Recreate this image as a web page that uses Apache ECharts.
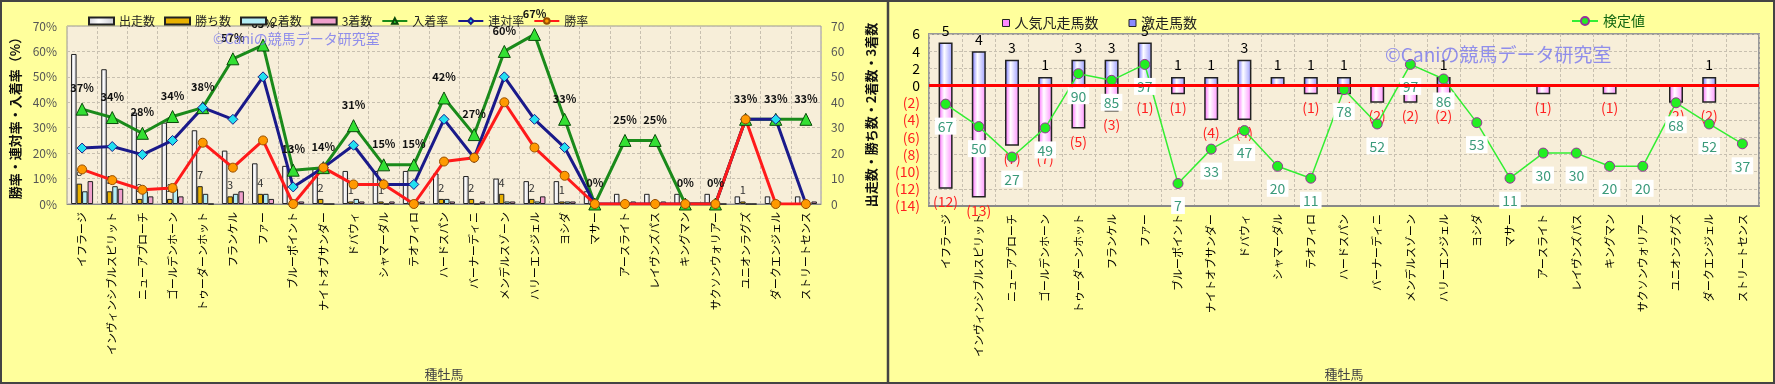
<!DOCTYPE html>
<html><head><meta charset="utf-8">
<script src="https://cdn.jsdelivr.net/npm/echarts@6/dist/echarts.min.js"></script>
<style>html,body{margin:0;padding:0;background:#ffff9c}#c{width:1775px;height:384px}</style>
</head><body><div id="c"></div>
<script>
const categories = ['イフラージ','インヴィンシブルスピリット','ニューアプローチ','ゴールデンホーン','トゥーダーンホット','フランケル','ファー','ブルーポイント','ナイトオブサンダー','ドバウィ','シャマーダル','テオフィロ','ハードスパン','バーナーディニ','メンデルスゾーン','ハリーエンジェル','ヨシダ','マサー','アースライト','レイヴンズパス','キングマン','サクソンウォリアー','ユニオンラグズ','ダークエンジェル','ストリートセンス'];
const runs   = [59,53,36,32,29,21,16,15,14,13,13,13,12,11,10,9,9,5,4,4,4,4,3,3,3];
const wins   = [8,5,2,2,7,3,4,0,2,1,1,0,2,2,4,2,1,0,0,0,0,0,1,0,0];
const second = [5,7,5,6,4,4,4,1,0,2,0,1,2,0,1,1,1,0,0,0,0,0,0,1,0];
const third  = [9,6,3,3,0,5,2,1,0,1,1,1,1,1,1,3,1,0,1,1,0,0,0,0,1];
const placeRate  = [37.3,34.0,27.8,34.4,37.9,57.1,62.5,13.3,14.3,30.8,15.4,15.4,41.7,27.3,60.0,66.7,33.3,0,25.0,25.0,0,0,33.3,33.3,33.3];
const rentaiRate = [22.0,22.6,19.4,25.0,37.9,33.3,50.0,6.7,14.3,23.1,7.7,7.7,33.3,18.2,50.0,33.3,22.2,0,0,0,0,0,33.3,33.3,0];
const winRate    = [13.6,9.4,5.6,6.3,24.1,14.3,25.0,0,14.3,7.7,7.7,0,16.7,18.2,40.0,22.2,11.1,0,0,0,0,0,33.3,0,0];
const ninkiBonsou = [-12,-13,-7,-7,-5,-3,-1,-1,-4,-4,0,-1,-1,-2,-2,-2,0,0,-1,0,-1,0,-2,-2,0];
const gekisou     = [5,4,3,1,3,3,5,1,1,3,1,1,1,0,0,1,0,0,0,0,0,0,0,1,0];
const kentei      = [67,50,27,49,90,85,97,7,33,47,20,11,78,52,97,86,53,11,30,30,20,20,68,52,37];
const leftTicks = {min:0, max:70, interval:10};
const rightTicks = {min:-14, max:6, interval:2};

const FONT = '"Noto Sans CJK JP", "Noto Sans", sans-serif';
const chart = echarts.init(document.getElementById('c'), null, {renderer:'canvas'});
const hGrad = (a,b,c) => new echarts.graphic.LinearGradient(0,0,1,0,[{offset:0,color:a},{offset:0.4,color:b},{offset:1,color:c}]);
const gridLine = {show:true, lineStyle:{color:'#c8c0b0', type:[3,2], width:1}};
const barBase = {type:'bar', xAxisIndex:0, yAxisIndex:1, barWidth:5.5, barGap:'0%'};
const catLabel = {rotate:90, interval:0, fontSize:11, color:'#000', margin:8, fontFamily:FONT};

chart.setOption({
  animation:false,
  backgroundColor:'#ffff9c',
  textStyle:{fontFamily:FONT},
  legend:[
    {left:83, top:10, itemWidth:25, itemHeight:7, itemGap:9, z:10, textStyle:{fontSize:12, color:'#222', fontFamily:FONT},
     data:[{name:'出走数',icon:'rect'},{name:'勝ち数',icon:'rect'},{name:'2着数',icon:'rect'},{name:'3着数',icon:'rect'},'入着率','連対率','勝率']},
    {left:997, top:11, itemWidth:7, itemHeight:7, itemGap:30, textStyle:{fontSize:14, color:'#222', fontFamily:FONT},
     data:[{name:'人気凡走馬数',icon:'rect',itemStyle:{color:'#ff88ff',borderColor:'#222',borderWidth:1}},
           {name:'激走馬数',icon:'rect',itemStyle:{color:'#8a8aff',borderColor:'#222',borderWidth:1}}]},
    {left:1566, top:9, itemWidth:26, itemHeight:10, textStyle:{fontSize:14, color:'#116611', fontFamily:FONT}, data:['検定値']}
  ],
  grid:[
    {left:67, top:26, width:754, height:178, show:true, backgroundColor:'#f7eed9', borderColor:'#999', borderWidth:1},
    {left:929, top:34, width:830, height:172, show:true, backgroundColor:'#f7eed9', borderColor:'#999', borderWidth:2}
  ],
  xAxis:[
    {type:'category', gridIndex:0, data:categories, axisTick:{show:false}, axisLine:{onZero:false, lineStyle:{color:'#888'}},
     axisLabel:catLabel, splitLine:gridLine, name:'種牡馬', nameLocation:'middle', nameGap:164, nameTextStyle:{fontSize:13, color:'#444'}},
    {type:'category', gridIndex:1, data:categories, axisTick:{show:false}, axisLine:{onZero:false, lineStyle:{color:'#888', width:2}},
     axisLabel:catLabel, splitLine:gridLine, name:'種牡馬', nameLocation:'middle', nameGap:162, nameTextStyle:{fontSize:13, color:'#444'}}
  ],
  yAxis:[
    {type:'value', gridIndex:0, position:'left', min:leftTicks.min, max:leftTicks.max, interval:leftTicks.interval,
     axisLabel:{formatter:'{value}%', fontSize:12, color:'#555', margin:10}, axisLine:{show:false}, axisTick:{show:false},
     splitLine:gridLine, name:'勝率・連対率・入着率（%）', nameLocation:'middle', nameRotate:90, nameGap:45,
     nameTextStyle:{fontSize:13, color:'#111', fontWeight:'bold'}},
    {type:'value', gridIndex:0, position:'right', min:leftTicks.min, max:leftTicks.max, interval:leftTicks.interval,
     axisLabel:{fontSize:12, color:'#555', margin:10}, axisLine:{show:false}, axisTick:{show:false}, splitLine:{show:false},
     name:'出走数・勝ち数・2着数・3着数', nameLocation:'middle', nameRotate:90, nameGap:44,
     nameTextStyle:{fontSize:13, color:'#111', fontWeight:'bold'}},
    {type:'value', gridIndex:1, position:'left', min:rightTicks.min, max:rightTicks.max, interval:rightTicks.interval,
     axisLine:{show:false}, axisTick:{show:false}, splitLine:gridLine,
     axisLabel:{margin:9, formatter:v => v < 0 ? '{r|(' + (-v) + ')}' : '{k|' + v + '}',
       rich:{r:{color:'#ff2020', fontSize:14, fontFamily:FONT}, k:{color:'#000', fontSize:14, fontFamily:FONT}}}},
    {type:'value', gridIndex:1, min:-10, max:120, show:false, splitLine:{show:false}}
  ],
  series:[
    Object.assign({}, barBase, {name:'出走数', data:runs, itemStyle:{color:hGrad('#d0d0d8','#ffffff','#c8c8d0'), borderColor:'#222', borderWidth:1}}),
    Object.assign({}, barBase, {name:'勝ち数', data:wins, itemStyle:{color:'#e8b000', borderColor:'#222', borderWidth:1},
      label:{show:true, position:'top', distance:6, fontSize:11, color:'#333', formatter:p => p.value ? p.value : ''}}),
    Object.assign({}, barBase, {name:'2着数', data:second, itemStyle:{color:'#b4eef6', borderColor:'#222', borderWidth:1}}),
    Object.assign({}, barBase, {name:'3着数', data:third, itemStyle:{color:'#f0a0cc', borderColor:'#222', borderWidth:1}}),
    {name:'入着率', type:'line', xAxisIndex:0, yAxisIndex:0, data:placeRate, symbol:'triangle', symbolSize:12,
     lineStyle:{color:'#1a8a1a', width:3}, itemStyle:{color:'#33e033', borderColor:'#0a4a0a', borderWidth:1},
     label:{show:true, position:'top', distance:9, fontSize:11, fontWeight:'bold', color:'#111', formatter:p => Math.round(p.value) + '%'}},
    {name:'連対率', type:'line', xAxisIndex:0, yAxisIndex:0, data:rentaiRate, symbol:'diamond', symbolSize:10,
     lineStyle:{color:'#1a1a8a', width:3}, itemStyle:{color:'#22e0f0', borderColor:'#1a1a8a', borderWidth:1}},
    {name:'勝率', type:'line', xAxisIndex:0, yAxisIndex:0, data:winRate, symbol:'circle', symbolSize:9,
     lineStyle:{color:'#ff1a1a', width:3}, itemStyle:{color:'#ff9900', borderColor:'#995000', borderWidth:1}},
    {name:'人気凡走馬数', type:'bar', xAxisIndex:1, yAxisIndex:2, data:ninkiBonsou, barWidth:14, barGap:'-100%',
     itemStyle:{color:hGrad('#ff60ff','#ffffff','#ff90ff'), borderColor:'#222', borderWidth:1.5},
     label:{show:true, position:'bottom', distance:6, fontSize:14, color:'#ff2020', formatter:p => p.value ? '(' + (-p.value) + ')' : ''}},
    {name:'激走馬数', type:'bar', xAxisIndex:1, yAxisIndex:2, data:gekisou, barWidth:14, barGap:'-100%',
     itemStyle:{color:hGrad('#6a6aff','#ffffff','#9a9aff'), borderColor:'#222', borderWidth:1.5},
     label:{show:true, position:'top', distance:5, fontSize:14, color:'#000', formatter:p => p.value ? p.value : ''},
     markLine:{silent:true, symbol:'none', label:{show:false}, lineStyle:{color:'#ff0000', width:3, type:'solid'}, data:[{yAxis:0}]}},
    {name:'検定値', type:'line', xAxisIndex:1, yAxisIndex:3, data:kentei, symbol:'circle', symbolSize:10,
     lineStyle:{color:'#33ee33', width:1.5}, itemStyle:{color:'#22ee22', borderColor:'#993399', borderWidth:1},
     label:{show:true, position:'bottom', distance:8, fontSize:14, color:'#3a9a7a', backgroundColor:'#ffffff', padding:[2,3,1,3]}}
  ],
  graphic:[
    {type:'text', left:213, top:32, z:5, style:{text:'©Caniの競馬データ研究室', fontSize:14, fill:'rgba(110,110,240,0.75)', fontFamily:FONT}},
    {type:'text', left:1385, top:45, z:5, style:{text:'©Caniの競馬データ研究室', fontSize:19, fill:'rgba(110,110,240,0.75)', fontFamily:FONT}},
    {type:'rect', shape:{x:1, y:1, width:1773, height:382}, style:{fill:'none', stroke:'#444', lineWidth:2}, z:100},
    {type:'line', shape:{x1:888, y1:0, x2:888, y2:384}, style:{stroke:'#444', lineWidth:2.5}, z:100}
  ]
});
</script></body></html>
